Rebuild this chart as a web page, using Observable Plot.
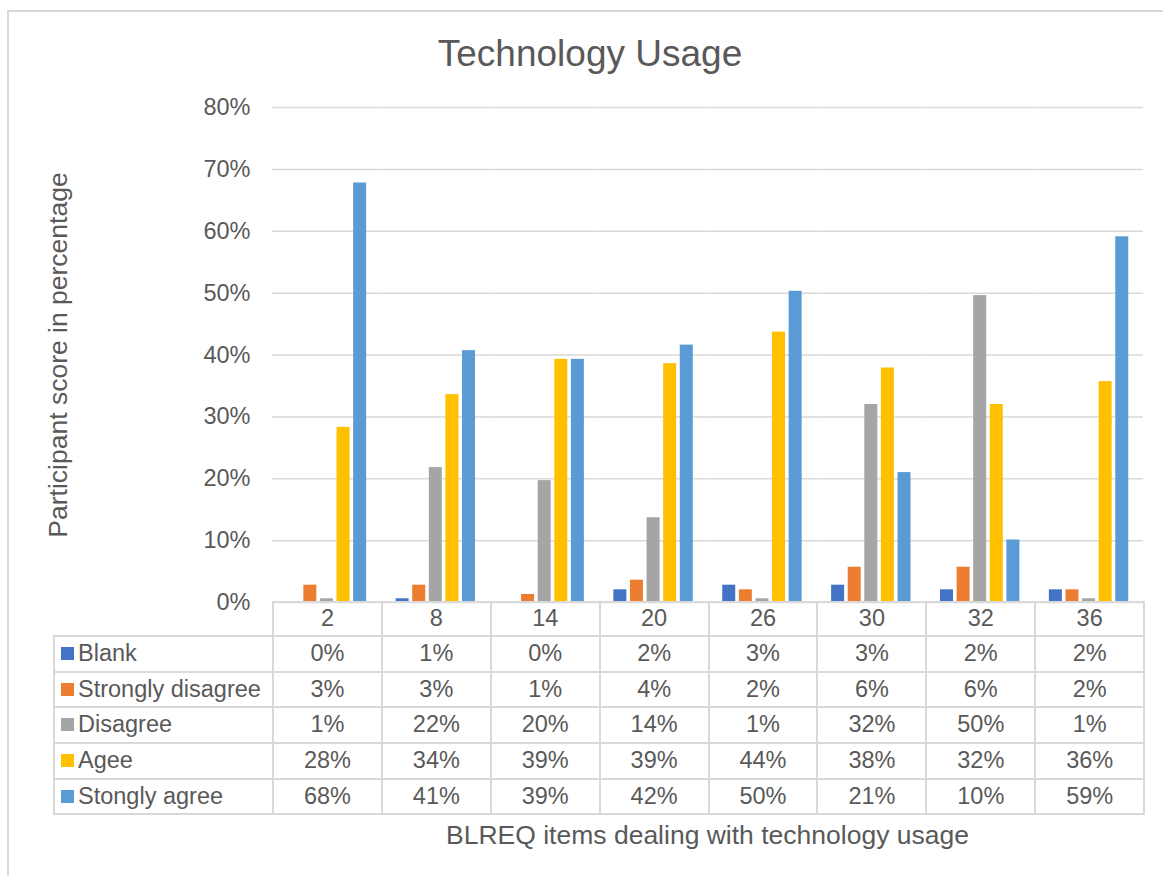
<!DOCTYPE html>
<html>
<head>
<meta charset="utf-8">
<script src="https://cdn.jsdelivr.net/npm/d3@7"></script>
<script src="https://cdn.jsdelivr.net/npm/@observablehq/plot@0.6"></script>
<style>
  html, body { margin: 0; padding: 0; background: #fff; overflow: hidden; }
  body { width: 1163px; height: 876px; position: relative;
         font-family: "Liberation Sans", Arial, sans-serif; color: #595959; }
  #frame { position: absolute; left: 7px; top: 10px; width: 1200px; height: 900px;
           border: 2px solid #d9d9d9; box-sizing: border-box; }
  #title { position: absolute; left: 590px; top: 34.7px; transform: translateX(-50%);
           font-size: 37px; line-height: 1; white-space: nowrap; }
  #ylabel { position: absolute; left: 57.5px; top: 354.5px; font-size: 26.5px; line-height: 1;
            white-space: nowrap; transform: translate(-50%, -50%) rotate(-90deg); }
  #xlabel { position: absolute; left: 707.5px; top: 821.6px; transform: translateX(-50%);
            font-size: 26.5px; line-height: 1; white-space: nowrap; }
  #chart { position: absolute; left: 0; top: 0; }
  #table { position: absolute; left: 53px; top: 601px; border-collapse: collapse;
           table-layout: fixed; font-size: 23.5px; color: #595959; }
  #table td { border: 2px solid #d9d9d9; padding: 0; text-align: center; line-height: 1;
              white-space: nowrap; overflow: hidden; }
  #table td.corner { border-top: none; border-left: none; }
  #table td.name { text-align: left; padding-left: 6px; }
  #table .sw { display: inline-block; width: 13px; height: 13px; margin-right: 4px;
               vertical-align: 1px; }
</style>
</head>
<body>
<div id="frame"></div>
<div id="title">Technology Usage</div>
<div id="ylabel">Participant score in percentage</div>
<div id="chart"></div>
<table id="table"></table>
<div id="xlabel">BLREQ items dealing with technology usage</div>
<script>
// BLREQ items and response categories
const items = ["2", "8", "14", "20", "26", "30", "32", "36"];
const series = ["Blank", "Strongly disagree", "Disagree", "Agee", "Stongly agree"];
const colors = ["#4472C4", "#ED7D31", "#A5A5A5", "#FFC000", "#5B9BD5"];

// Share of participants per item, one array per response
const blank            = [0.000, 0.006, 0.000, 0.0205, 0.028, 0.028, 0.0205, 0.0205];
const stronglyDisagree = [0.028, 0.028, 0.013, 0.036, 0.0205, 0.057, 0.057, 0.0205];
const disagree         = [0.006, 0.218, 0.197, 0.137, 0.006, 0.320, 0.496, 0.006];
const agree            = [0.283, 0.336, 0.393, 0.386, 0.437, 0.379, 0.320, 0.357];
const stronglyAgree    = [0.678, 0.407, 0.393, 0.416, 0.503, 0.210, 0.101, 0.591];

// Value axis ticks
const yTicks = [0, 0.1, 0.2, 0.3, 0.4, 0.5, 0.6, 0.7, 0.8];

const valuesBySeries = [blank, stronglyDisagree, disagree, agree, stronglyAgree];
const rows = [];
series.forEach((s, si) => items.forEach((it, ii) => rows.push({item: it, series: s, value: valuesBySeries[si][ii]})));

const pct = d3.format(".0%");
const font = '"Liberation Sans", Arial, sans-serif';

const chart = Plot.plot({
  width: 1163,
  height: 602,
  marginTop: 107,
  marginBottom: 0,
  marginLeft: 272,
  marginRight: 20,
  style: {fontFamily: font, fontSize: "23.5px", color: "#595959", background: "transparent", overflow: "visible"},
  fx: {domain: items, padding: 0, round: false, axis: null},
  x: {domain: series, paddingInner: 0.217, paddingOuter: 0.888, round: false, axis: null},
  y: {domain: [0, 0.8], ticks: yTicks, tickFormat: pct, tickSize: 0, tickPadding: 22, label: null},
  color: {domain: series, range: colors},
  marks: [
    Plot.ruleY(yTicks, {stroke: "#d9d9d9", strokeWidth: 1.5}),
    Plot.barY(rows, {fx: "item", x: "series", y: "value", fill: "series"})
  ]
});
document.getElementById("chart").appendChild(chart);

// Data table under the chart, built from the same arrays
const table = d3.select("#table");
const cg = table.append("colgroup");
cg.append("col").style("width", "219px");
items.forEach(() => cg.append("col").style("width", "108.9px"));

const head = table.append("tr").style("height", "34px");
head.append("td").attr("class", "corner");
items.forEach(it => head.append("td").text(it));

series.forEach((s, si) => {
  const tr = table.append("tr").style("height", "35.7px");
  const nameCell = tr.append("td").attr("class", "name");
  nameCell.append("span").attr("class", "sw").style("background", colors[si]);
  nameCell.append("span").text(s);
  valuesBySeries[si].forEach(v => tr.append("td").text(pct(v)));
});
</script>
</body>
</html>
